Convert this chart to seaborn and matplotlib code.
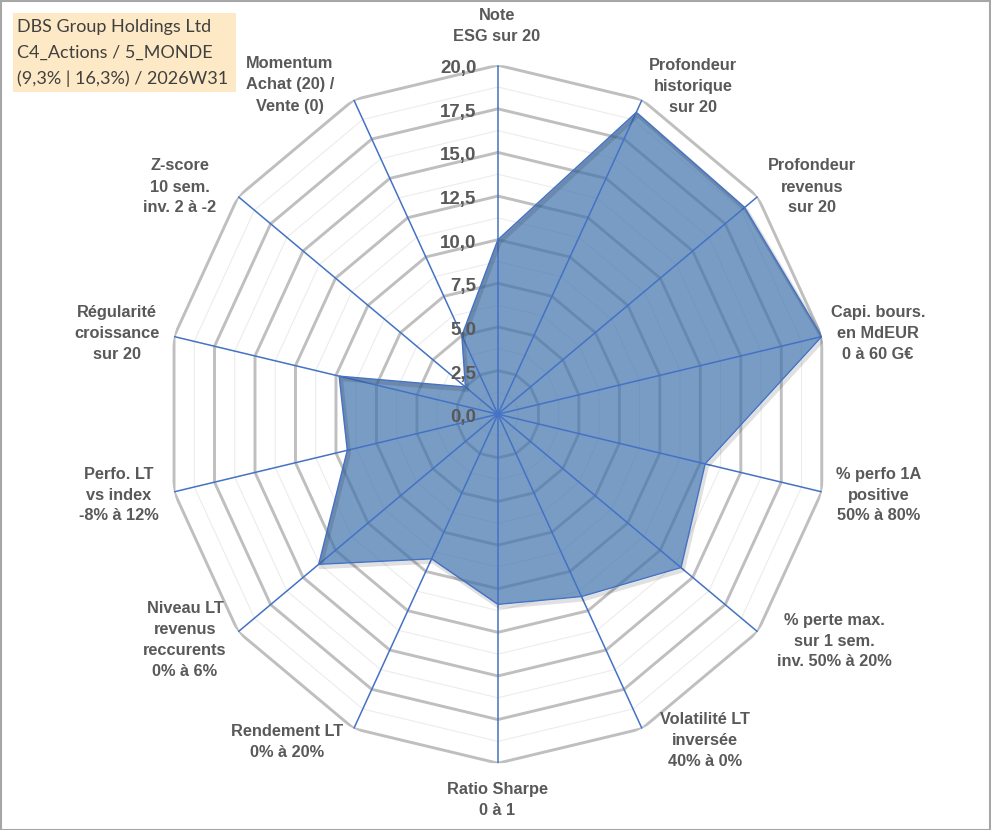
import numpy as np
import matplotlib
matplotlib.use("Agg")
import matplotlib.pyplot as plt
import seaborn as sns
import pandas as pd
from matplotlib.patches import Rectangle
import matplotlib.patheffects as pe

# ---------------- data ----------------
categories = [
    "Note\nESG sur 20",
    "Profondeur\nhistorique\nsur 20",
    "Profondeur\nrevenus\nsur 20",
    "Capi. bours.\nen MdEUR\n0 à 60 G€",
    "% perfo 1A\npositive\n50% à 80%",
    "% perte max.\nsur 1 sem.\ninv. 50% à 20%",
    "Volatilité LT\ninversée\n40% à 0%",
    "Ratio Sharpe\n0 à 1",
    "Rendement LT\n0% à 20%",
    "Niveau LT\nrevenus\nreccurents\n0% à 6%",
    "Perfo. LT\nvs index\n-8% à 12%",
    "Régularité\ncroissance\nsur 20",
    "Z-score\n10 sem.\ninv. 2 à -2",
    "Momentum\nAchat (20) /\nVente (0)",
]
scores = [10.0, 19.2, 19.0, 20.0, 12.8, 14.1, 11.6, 10.9, 9.2, 13.8, 9.3, 9.8, 2.5, 5.0]
tick_values = [0.0, 2.5, 5.0, 7.5, 10.0, 12.5, 15.0, 17.5, 20.0]
tick_labels = ["0,0", "2,5", "5,0", "7,5", "10,0", "12,5", "15,0", "17,5", "20,0"]
title_lines = ["DBS Group Holdings Ltd", "C4_Actions / 5_MONDE", "(9,3% | 16,3%) / 2026W31"]

# label centres in pixels (layout, not data)
label_px = [(497, 26), (693, 86), (812, 187), (878, 333), (879, 495), (834, 641),
            (705, 740), (497, 800), (287, 742), (185, 640), (119, 495), (117, 333),
            (180, 187), (290, 85)]

# ---------------- style ----------------
sns.set_theme(style="white")
ARIAL = ["Liberation Sans", "DejaVu Sans"]
plt.rcParams["font.family"] = ARIAL

W, H = 991, 830
fig = plt.figure(figsize=(W / 100, H / 100), dpi=100)
fig.patch.set_facecolor("white")

cx, cy, rx, ry = 497.9, 414.2, 332.2, 349.0
ax = fig.add_axes([(cx - rx) / W, (H - (cy + ry)) / H, 2 * rx / W, 2 * ry / H],
                  projection="polar")
ax.set_aspect("auto")
ax.set_theta_zero_location("N")
ax.set_theta_direction(-1)
ax.set_ylim(0, 20)
ax.grid(False)
ax.set_xticks([])
ax.set_yticks([])
ax.spines["polar"].set_visible(False)
ax.set_facecolor("none")

n = len(categories)
theta = np.arange(n) * 2 * np.pi / n
theta_c = np.append(theta, theta[0])

# polygon gridlines
for k in range(1, 17):
    v = k * 1.25
    major = (k % 2 == 0)
    ax.plot(theta_c, [v] * (n + 1),
            color="#bfbfbf" if major else "#ececec",
            lw=2.1 if major else 0.8, zorder=1, solid_joinstyle="miter")

# data polygon
df = pd.DataFrame({"theta": theta_c, "score": scores + [scores[0]]})
ax.fill(df["theta"], df["score"], color="#4073ad", alpha=0.7, lw=0, zorder=2)
sns.lineplot(data=df, x="theta", y="score", sort=False, ax=ax, color="#4472c4",
             lw=1.0, zorder=4, estimator=None,
             path_effects=[pe.SimpleLineShadow(offset=(1.2, -2.0), shadow_color="black",
                                               alpha=0.12, linewidth=3.0),
                           pe.Normal()])
ax.set_xlabel("")
ax.set_ylabel("")

# spokes
for t in theta:
    ax.plot([t, t], [0, 20], color="#4472c4", lw=1.1, zorder=3)

# radial tick labels along top spoke
for v, s in zip(tick_values, tick_labels):
    ax.annotate(s, xy=(0, v), xytext=(-15.5, -2.5), textcoords="offset points",
                ha="right", va="center", fontsize=13.5, fontweight="bold",
                color="#595959", zorder=6, annotation_clip=False, family=ARIAL)

# category labels
for lab, (px, py) in zip(categories, label_px):
    fig.text(px / W, 1 - py / H, lab, ha="center", va="center", multialignment="center",
             fontsize=11.8, fontweight="bold", color="#595959", linespacing=1.5,
             family=ARIAL)

# title box
fig.patches.append(Rectangle((13 / W, 1 - 92 / H), (236 - 13) / W, (92 - 13) / H,
                             transform=fig.transFigure, facecolor="#fde9c5",
                             edgecolor="none", zorder=0))
fig.text(17 / W, 1 - 53 / H, "\n".join(title_lines), ha="left", va="center",
         fontsize=13, color="#404040", family=["Lato", "DejaVu Sans"], linespacing=1.72)

# outer frame
fig.patches.append(Rectangle((0.5 / W, 0.5 / H), 1 - 2 / W, 1 - 2 / H,
                             transform=fig.transFigure, fill=False,
                             edgecolor="#a6a6a6", lw=1.5))

fig.savefig("out.png", dpi=100)
